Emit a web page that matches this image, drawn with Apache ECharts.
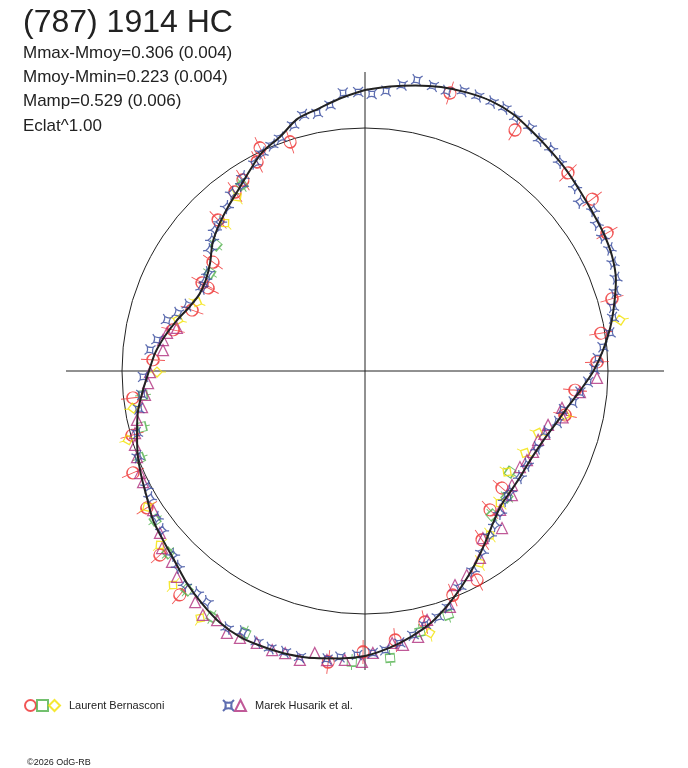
<!DOCTYPE html>
<html><head><meta charset="utf-8">
<script src="https://cdn.jsdelivr.net/npm/echarts@6/dist/echarts.min.js"></script>
<style>html,body{margin:0;padding:0;background:#fff}#c{width:688px;height:768px}</style>
</head><body><div id="c"></div>
<script>
// ---- data (phase in degrees, clockwise from top; radius in plot units) ----
const fitPhase = [0,5,10,15,20,25,30,35,40,45,50,55,60,65,70,75,80,85,90,95,100,105,110,115,120,125,130,135,140,145,150,155,160,165,170,175,180,185,190,195,200,205,210,215,220,225,230,235,240,245,250,255,260,265,270,275,280,285,290,295,300,305,310,315,320,325,330,335,340,345,350,355,360];
const fitRadius = [281,285.5,290,294,296.5,298,296.5,292,288,284.5,280.5,277.5,275.5,272.5,267,258,249,239,228.5,216.5,206,198.5,192.5,189,187.5,188,189,191.5,199,209.5,221.5,234,247,259.5,269.5,278,285,288.5,291.5,293.5,294,294,290.5,284,277,269,263.5,259,252,247,242,236,230.5,223,216,210.5,203,195,187,182.5,183.5,189,199,206.5,213.5,221,231,242,249,261,266.5,274,281];
const meanLevel = 243;
const radialMax = 299;

// Laurent Bernasconi
const bernasconiCircle = [[9.9,303.5],[17.0,290.7],[31.9,283.9],[39.1,304.2],[45.7,283.6],[52.9,284.8],[60.3,278.6],[73.7,257.3],[80.9,239],[87.8,232.2],[95.2,210.9],[102.4,204.8],[130.5,180.2],[138.0,186.9],[145.3,205.5],[151.8,237.1],[158.6,240.7],[166.6,258.1],[173.6,270.7],[180.4,281],[187.2,293.3],[194.8,301],[219.6,290.5],[228.1,275.5],[237.9,257.5],[246.3,253.4],[254.6,241.6],[263.4,233.6],[273.0,212.3],[282.1,196.3],[289.4,183.4],[297.9,177.6],[298.4,185.2],[305.6,187],[315.8,210.7],[324.0,221.2],[327.4,226.6],[332.7,235.3],[334.8,246.5],[341.9,241]];
const bernasconiSquare = [[124.9,176.7],[131.6,189.8],[138.6,192],[161.2,257.7],[168.1,266.7],[175.0,288.1],[182.6,291.3],[190.5,301.1],[204.6,288.2],[211.9,289.7],[219.1,282.2],[227.3,268.2],[234.6,257.5],[248.9,241.2],[255.9,229.9],[263.8,223.3],[302.3,183.4],[310.2,195.1],[326.5,223]];
const bernasconiDiamond = [[78.7,260],[102.4,204.8],[109.7,183.8],[117.1,179.8],[125.4,174.3],[134.4,188.8],[142.7,206.2],[149.1,223.8],[166.1,269.9],[197.7,303.3],[206.1,299.6],[213.7,297],[221.9,287.5],[229.7,268.9],[238.0,257],[253.8,246.8],[260.9,234.9],[269.7,208],[285.3,193.8],[292.3,181.6],[316.6,203.7],[323.7,216]];
// Marek Husarik et al.
const husarikStar = [[346.4,263.4],[349.5,262.4],[352.5,268.3],[355.5,278.9],[358.6,279.1],[1.4,277.1],[4.3,280.8],[7.4,288.4],[10.1,295.6],[13.4,293],[16.3,291.8],[19.3,296.7],[22.3,297.3],[25.3,297.5],[28.0,297.9],[30.8,294.6],[34.1,294.5],[37.1,289.8],[40.0,289.6],[43.0,285.8],[48.8,279.2],[51.8,273.5],[54.8,279.1],[57.6,274.6],[60.6,273.1],[63.5,273.7],[66.5,270.5],[69.7,267.7],[72.5,262.2],[75.5,256.1],[77.9,253.6],[81.2,247.9],[84.2,239.2],[86.8,233.4],[89.5,229.5],[92.8,223.3],[95.6,216],[98.5,210.3],[101.1,201.8],[104.8,199.6],[108.5,192],[114.1,188.4],[120.1,187.3],[124.4,187.8],[129.8,188.9],[132.7,190.4],[136.4,195.9],[139.8,201.5],[142.7,206.2],[147.1,215.5],[151.5,226.4],[156.3,236],[160.6,250.2],[163.5,256.6],[166.7,261],[169.7,268.3],[172.7,274.2],[175.9,279.7],[178.4,282.1],[181.6,284.1],[185.0,287.1],[187.5,290.5],[192.8,293.3],[195.9,292.2],[198.9,292.8],[201.7,291.7],[205.1,288.1],[208.2,291.7],[214.4,279.9],[217.1,278.4],[220.1,279.6],[223.7,270.9],[226.2,265.9],[231.9,257.9],[234.8,254.7],[239.4,249.7],[242.0,246.9],[249.3,242.7],[254.8,236.3],[260.5,229.5],[264.0,224.5],[268.5,222.1],[275.6,216],[278.5,210.3],[284.4,204.5],[287.2,195.8],[290.4,188.9],[297.0,182.9],[299.5,183.2],[302.0,185.1],[308.0,196.6],[310.6,201.4],[313.2,205.9],[315.8,207.9],[319.9,214.3],[323.2,222.2],[326.5,223],[327.8,229.2],[332.1,235.3],[334.7,241.1],[337.6,244.4],[340.0,248],[343.7,256.3]];
const husarikTriangle = [[91.7,232.1],[95.6,216],[100.6,200.4],[103.2,203],[106.4,190.8],[109.3,190],[111.7,186.3],[115.7,186.5],[118.8,184.8],[121.8,182.3],[127.8,186],[130.2,192.3],[135.8,193.8],[138.9,208.4],[144.8,204.5],[148.4,219.5],[153.5,228],[157.2,232.2],[160.2,250.8],[166.0,256.6],[168.7,271.2],[172.1,276.6],[174.3,273.3],[178.4,282.1],[180.6,291],[184.0,289.7],[187.5,291.5],[190.1,286.4],[192.7,296.2],[195.8,293.1],[198.4,294.1],[201.7,292.7],[205.1,294.8],[207.8,296.1],[210.7,289.7],[213.6,292.9],[216.3,286.8],[222.4,278.9],[225.3,271.5],[228.9,269.3],[231.7,261.3],[236.7,253.5],[243.4,248.2],[245.6,247],[249.3,243.7],[252.2,241.6],[254.9,238.2],[257.9,233.2],[260.8,225.9],[263.8,221.3],[266.8,217.3],[269.7,215],[275.9,203.1],[278.7,204.4],[280.9,201.6],[282.9,192.9]];

const titleText = '(787) 1914 HC';
const statLines = ['Mmax-Mmoy=0.306 (0.004)','Mmoy-Mmin=0.223 (0.004)','Mamp=0.529 (0.006)','Eclat^1.00'];
const copyrightText = '\u00A92026 OdG-RB';

// ---- styles ----
const FONT = 'Liberation Sans, Arial, sans-serif';
const symCircle = 'path://M0,-12 L0,12 M6,0 A6,6 0 1 1 -6,0 A6,6 0 1 1 6,0';
const symSquare = 'path://M-4,-4 L4,-4 L4,4 L-4,4 Z M0,-8 L0,-4 M0,4 L0,8';
const symDiamond = 'path://M0,-5 L5,0 L0,5 L-5,0 Z M0,-9 L0,-5 M0,5 L0,9';
const symStar = 'path://M-5,-5 L-3,-3 Q0,-2 3,-3 L5,-5 M3,-3 Q2,0 3,3 L5,5 M3,3 Q0,2 -3,3 L-5,5 M-3,3 Q-2,0 -3,-3';

function radial(arr){ return arr.map(([p,r]) => ({value:[r,p], symbolRotate:-p})); }
function plain(arr){ return arr.map(([p,r]) => [r,p]); }
function hollow(c){ return {color:'rgba(0,0,0,0)', borderColor:c, borderWidth:1.25}; }

const chart = echarts.init(document.getElementById('c'), null, {renderer:'canvas'});
const blank = n => (n.indexOf('-') === 2 && n.length === 4) ? '' : n;
const legendText = {fontSize:11, color:'#222', fontFamily:FONT, padding:[0,0,0,4]};
chart.setOption({
  animation:false,
  backgroundColor:'#fff',
  textStyle:{fontFamily:FONT},
  title:[
    {left:18, top:2, text:titleText, itemGap:2,
     textStyle:{fontSize:32, fontWeight:'normal', color:'#222', fontFamily:FONT},
     subtext:statLines.join('\n'),
     subtextStyle:{fontSize:17, lineHeight:24.3, color:'#222', fontFamily:FONT}},
    {left:22, top:753, text:copyrightText, textStyle:{fontSize:9, fontWeight:'normal', color:'#222', fontFamily:FONT}}
  ],
  legend:[
    {left:19, top:694, itemWidth:11, itemHeight:11, itemGap:-1, formatter:blank, textStyle:legendText,
     data:[{name:'LB-a', icon:'circle'},{name:'LB-b', icon:'rect'},{name:'Laurent Bernasconi', icon:'diamond'}]},
    {left:217, top:694, itemWidth:11, itemHeight:11, itemGap:-1, formatter:blank, textStyle:legendText,
     data:[{name:'MH-a', icon:symStar},{name:'Marek Husarik et al.', icon:'triangle'}]}
  ],
  polar:{center:[365,371], radius:radialMax},
  angleAxis:{type:'value', min:0, max:360, interval:90, startAngle:90, clockwise:true,
    axisLine:{show:false}, axisTick:{show:false}, axisLabel:{show:false},
    splitLine:{show:true, lineStyle:{color:'#222', width:1}}, splitArea:{show:false}},
  radiusAxis:{type:'value', min:0, max:radialMax, interval:meanLevel,
    axisLine:{show:false}, axisTick:{show:false}, axisLabel:{show:false},
    splitLine:{show:true, lineStyle:{color:['#222','#222','rgba(0,0,0,0)'], width:1}}, splitArea:{show:false}},
  series:[
    {name:'LB-a', type:'scatter', coordinateSystem:'polar', symbol:symCircle, symbolSize:[12,24],
     itemStyle:hollow('#ee2a2a'), data:radial(bernasconiCircle), z:2},
    {name:'LB-b', type:'scatter', coordinateSystem:'polar', symbol:symSquare, symbolSize:[9,16],
     itemStyle:hollow('#4fb04a'), data:radial(bernasconiSquare), z:2},
    {name:'Laurent Bernasconi', type:'scatter', coordinateSystem:'polar', symbol:symDiamond, symbolSize:[10,18],
     itemStyle:hollow('#f2e200'), data:radial(bernasconiDiamond), z:2},
    {name:'MH-a', type:'scatter', coordinateSystem:'polar', symbol:symStar, symbolSize:[10,10],
     itemStyle:hollow('#34499c'), data:radial(husarikStar), z:3},
    {name:'Marek Husarik et al.', type:'scatter', coordinateSystem:'polar', symbol:'triangle', symbolSize:11,
     itemStyle:hollow('#b0307e'), data:plain(husarikTriangle), z:2},
    {name:'fit', type:'line', coordinateSystem:'polar', data:fitPhase.map((p,i)=>[fitRadius[i],p]),
     smooth:0.3, symbol:'none', lineStyle:{color:'#222', width:2}, z:5, silent:true}
  ]
});
</script></body></html>
